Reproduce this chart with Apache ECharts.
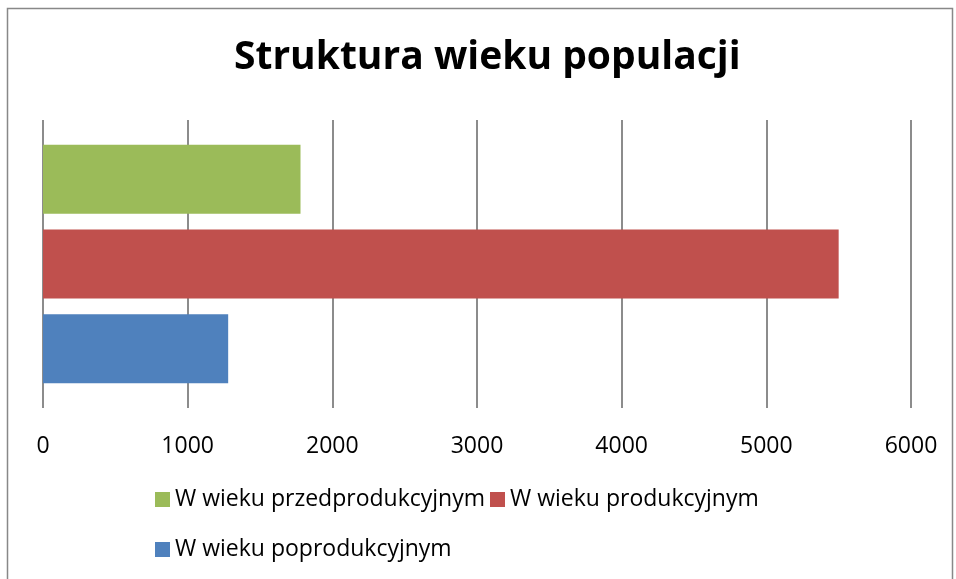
<!DOCTYPE html>
<html>
<head>
<meta charset="utf-8">
<script src="https://cdn.jsdelivr.net/npm/echarts@6/dist/echarts.min.js"></script>
<style>
html, body { margin: 0; padding: 0; background: #fff; }
#chart { width: 956px; height: 579px; }
</style>
</head>
<body>
<div id="chart"></div>
<script>
// dane wykresu
var categories = ['Populacja'];
var seriesNames = ['W wieku przedprodukcyjnym', 'W wieku produkcyjnym', 'W wieku poprodukcyjnym'];
var przedprodukcyjny = [1780];
var produkcyjny = [5500];
var poprodukcyjny = [1280];
var xTicks = [0, 1000, 2000, 3000, 4000, 5000, 6000];

var FONT = '"Open Sans", "Liberation Sans", sans-serif';

var myChart = echarts.init(document.getElementById('chart'));
var option = {
    backgroundColor: '#ffffff',
    animation: false,
    title: {
        text: 'Struktura wieku populacji',
        left: 229,
        top: 33,
        textStyle: {
            fontFamily: FONT,
            fontSize: 39,
            fontWeight: 'bold',
            color: '#000'
        }
    },
    graphic: [{
        type: 'rect',
        shape: { x: 7.5, y: 8.5, width: 945, height: 620 },
        style: { fill: 'none', stroke: '#888888', lineWidth: 1.5 },
        silent: true
    }],
    legend: {
        left: 150,
        top: 472,
        width: 650,
        itemWidth: 15,
        itemHeight: 15,
        itemGap: 5,
        icon: 'rect',
        data: seriesNames,
        textStyle: {
            fontFamily: FONT,
            fontSize: 23,
            color: '#000',
            lineHeight: 45
        }
    },
    grid: {
        left: 43,
        right: 45,
        top: 120,
        bottom: 171,
        containLabel: false
    },
    xAxis: {
        type: 'value',
        min: xTicks[0],
        max: xTicks[xTicks.length - 1],
        interval: 1000,
        axisLine: { show: false },
        axisTick: { show: false },
        axisLabel: {
            margin: 27,
            fontFamily: FONT,
            fontSize: 23,
            color: '#000',
            formatter: function (v) { return String(v); }
        },
        splitLine: {
            show: true,
            lineStyle: { color: '#8c8c8c', width: 2 }
        }
    },
    yAxis: {
        type: 'category',
        data: categories,
        axisLine: { show: false },
        axisTick: { show: false },
        axisLabel: { show: false },
        splitLine: { show: false }
    },
    series: [
        {
            name: seriesNames[0],
            type: 'bar',
            data: przedprodukcyjny,
            barWidth: 69,
            barGap: '23%',
            itemStyle: { color: '#9BBB59' }
        },
        {
            name: seriesNames[1],
            type: 'bar',
            data: produkcyjny,
            barWidth: 69,
            barGap: '23%',
            itemStyle: { color: '#C0504D' }
        },
        {
            name: seriesNames[2],
            type: 'bar',
            data: poprodukcyjny,
            barWidth: 69,
            barGap: '23%',
            itemStyle: { color: '#4F81BD' }
        }
    ]
};
myChart.setOption(option);
</script>
</body>
</html>
